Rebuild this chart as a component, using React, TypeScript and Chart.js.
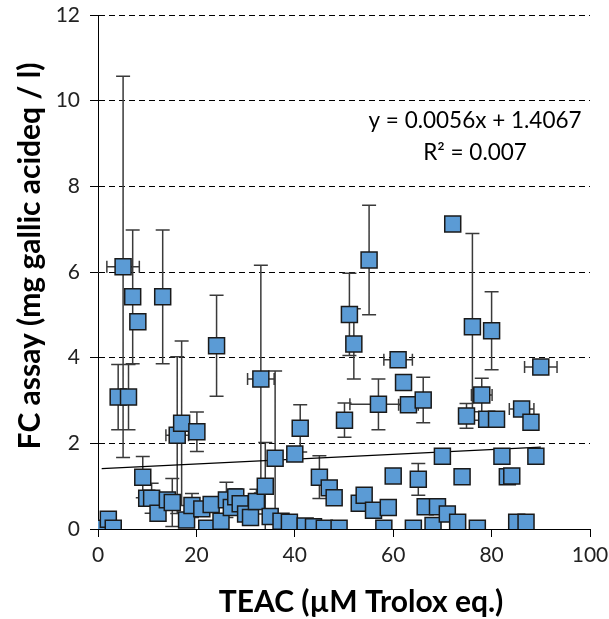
import React, { useEffect, useRef } from 'react';
import { Chart, registerables } from 'chart.js';

Chart.register(...registerables);

// TEAC (µM Trolox eq.)
const teac = [
  0.75, 2.1, 3.1, 4.1, 5.1, 6.2, 7.05, 8.1, 9.1, 9.9,
  10.9, 12.2, 13.15, 14.1, 15.1, 16.1, 17.0, 18.0, 19.1, 20.1,
  21.1, 22.1, 23.0, 24.1, 25.0, 26.1, 27.1, 28.0, 28.9, 30.0,
  31.0, 32.2, 33.1, 34.0, 35.0, 36.0, 37.2, 38.9, 40.0, 41.1,
  42.1, 43.8, 45.0, 46.0, 47.0, 48.0, 49.0, 50.1, 51.1, 52.0,
  53.1, 54.1, 55.1, 56.0, 57.0, 58.1, 59.0, 60.0, 61.0, 62.1,
  63.1, 64.1, 65.1, 66.1, 66.5, 68.1, 69.0, 70.0, 71.0, 72.1,
  73.1, 74.0, 74.9, 76.1, 77.1, 78.0, 79.0, 80.0, 81.0, 82.1,
  83.2, 84.1, 85.1, 86.1, 87.0, 88.0, 89.0, 90.0,
];
// FC assay (mg gallic acideq / l)
const fc = [
  0.02, 0.23, 0.02, 3.08, 6.12, 3.08, 5.42, 4.84, 1.21, 0.72,
  0.72, 0.37, 5.42, 0.68, 0.62, 2.19, 2.47, 0.21, 0.55, 2.27,
  0.47, 0.02, 0.57, 4.28, 0.18, 0.68, 0.5, 0.75, 0.59, 0.35,
  0.27, 0.64, 3.5, 1.0, 0.29, 1.65, 0.18, 0.16, 1.75, 2.35,
  0.07, 0.05, 1.21, 0.02, 0.96, 0.73, 0.02, 2.54, 5.01, 4.32,
  0.6, 0.79, 6.28, 0.44, 2.91, 0.02, 0.5, 1.24, 3.95, 3.42,
  2.9, 0.02, 1.16, 3.01, 0.52, 0.08, 0.52, 1.7, 0.35, 7.12,
  0.16, 1.22, 2.64, 4.72, 0.02, 3.13, 2.56, 4.63, 2.56, 1.7,
  1.22, 1.24, 0.16, 2.8, 0.16, 2.49, 1.7, 3.78,
];
// FC standard deviation
const fcErr = [
  0, 0, 0, 0.76, 4.45, 0.76, 1.56, 0, 0.48, 0,
  0.35, 0, 1.56, 0, 0.56, 1.83, 1.92, 0, 0.28, 0.46,
  0, 0, 0, 1.18, 0, 0.41, 0, 0.19, 0, 0,
  0, 0.29, 2.66, 1.02, 0, 2.04, 0, 0, 0.1, 0.55,
  0, 0, 0.5, 0, 0, 0, 0, 0.4, 0.96, 0.82,
  0, 0, 1.28, 0, 0.59, 0, 0, 0, 0, 0.1,
  0, 0, 0.37, 0.53, 0, 0, 0, 0, 0, 0,
  0, 0, 0.29, 2.18, 0, 0.39, 0, 0.91, 0, 0,
  0, 0, 0, 0, 0, 0, 0.15, 0,
];
// TEAC standard deviation
const teacErr = [
  0, 0, 0, 0, 3.3, 0, 0, 0, 0, 0,
  0, 0, 0, 0, 0, 2.3, 0, 0, 0, 0,
  0, 0, 0, 0, 0, 0, 0, 0, 0, 0,
  0, 0, 2.7, 0, 0, 0, 0, 0, 0, 0,
  0, 0, 0, 0, 0, 0, 0, 0, 0, 0,
  0, 0, 0, 0, 5.8, 0, 0, 0, 2.9, 0,
  2.0, 0, 0, 0, 0, 0, 0, 0, 0, 0,
  0, 0, 0, 0, 0, 2.1, 0, 0, 0, 0,
  0, 0, 0, 2.5, 0, 0, 0, 3.3,
];

const xTicks = [0, 20, 40, 60, 80, 100];
const yTicks = [0, 2, 4, 6, 8, 10, 12];
const slope = 0.0056;
const intercept = 1.4067;
const eqLabel = 'y = 0.0056x + 1.4067';
const r2Label = 'R² = 0.007';
const xTitle = 'TEAC (µM Trolox eq.)';
const yTitle = 'FC assay (mg gallic acideq / l)';

const FONT = 'Lato, "Open Sans", sans-serif';

const errorBarsPlugin = {
  id: 'errorBars',
  beforeDatasetsDraw(chart: any) {
    const { ctx, scales } = chart;
    const x = scales.x;
    const y = scales.y;
    ctx.save();
    ctx.strokeStyle = '#3a3a3a';
    ctx.lineWidth = 1.5;
    ctx.beginPath();
    for (let i = 0; i < teac.length; i++) {
      const px = x.getPixelForValue(teac[i]);
      const py = y.getPixelForValue(fc[i]);
      const ey = fcErr[i];
      if (ey > 0) {
        const topV = fc[i] + ey;
        const botV = fc[i] - ey;
        const top = y.getPixelForValue(topV);
        const bot = y.getPixelForValue(Math.max(0, botV));
        ctx.moveTo(px, top);
        ctx.lineTo(px, bot);
        ctx.moveTo(px - 7, top);
        ctx.lineTo(px + 7, top);
        if (botV >= 0) {
          ctx.moveTo(px - 7, bot);
          ctx.lineTo(px + 7, bot);
        }
      }
      const ex = teacErr[i];
      if (ex > 0) {
        const l = x.getPixelForValue(Math.max(0, teac[i] - ex));
        const r = x.getPixelForValue(teac[i] + ex);
        ctx.moveTo(l, py);
        ctx.lineTo(r, py);
        ctx.moveTo(l, py - 6);
        ctx.lineTo(l, py + 6);
        ctx.moveTo(r, py - 6);
        ctx.lineTo(r, py + 6);
      }
    }
    ctx.stroke();
    ctx.restore();
  },
};

const textPlugin = {
  id: 'texts',
  afterDraw(chart: any) {
    const { ctx } = chart;
    ctx.save();
    ctx.fillStyle = '#000';
    ctx.textAlign = 'center';
    ctx.textBaseline = 'alphabetic';
    ctx.font = `22.5px ${FONT}`;
    ctx.fillText(eqLabel, 475, 128);
    ctx.fillText(r2Label, 475, 160);
    ctx.font = `bold 30px ${FONT}`;
    ctx.textBaseline = 'middle';
    ctx.fillText(xTitle, 361, 602);
    ctx.translate(30, 256);
    ctx.rotate(-Math.PI / 2);
    ctx.fillText(yTitle, 0, 0);
    ctx.restore();
  },
};

export default function App() {
  const ref = useRef<HTMLCanvasElement | null>(null);
  useEffect(() => {
    if (!ref.current) return;
    const minX = Math.min(...teac);
    const maxX = Math.max(...teac);
    const chart = new Chart(ref.current, {
      type: 'scatter',
      data: {
        datasets: [
          {
            label: 'FC vs TEAC',
            data: teac.map((v, i) => ({ x: v, y: fc[i] })),
            pointStyle: 'rect',
            pointRadius: 11.3,
            pointBackgroundColor: '#5B9BD5',
            pointBorderColor: '#1a1a1a',
            pointBorderWidth: 1.5,
            showLine: false,
          } as any,
          {
            type: 'line',
            label: 'Linear trend',
            data: [
              { x: minX, y: slope * minX + intercept },
              { x: maxX, y: slope * maxX + intercept },
            ],
            borderColor: '#000',
            borderWidth: 1.2,
            pointRadius: 0,
            fill: false,
          } as any,
        ],
      },
      options: {
        animation: false,
        responsive: false,
        maintainAspectRatio: false,
        layout: { padding: { left: 0, right: 19, top: 15, bottom: 0 } },
        plugins: { legend: { display: false }, tooltip: { enabled: false } },
        scales: {
          x: {
            type: 'linear',
            min: 0,
            max: 100,
            afterBuildTicks: (s: any) => {
              s.ticks = xTicks.map((v) => ({ value: v }));
            },
            afterFit: (s: any) => {
              s.height = 90;
              s.paddingLeft = 0;
              s.paddingRight = 0;
            },
            ticks: { font: { family: FONT, size: 21 }, color: '#222', padding: 6, maxRotation: 0 },
            grid: { drawOnChartArea: false, drawTicks: true, tickLength: 8, color: '#000', lineWidth: 1 },
            border: { display: true, color: '#000', width: 1 },
          },
          y: {
            type: 'linear',
            min: 0,
            max: 12,
            afterBuildTicks: (s: any) => {
              s.ticks = yTicks.map((v) => ({ value: v }));
            },
            afterFit: (s: any) => {
              s.width = 98;
              s.paddingTop = 0;
              s.paddingBottom = 0;
            },
            ticks: { font: { family: FONT, size: 21 }, color: '#222', padding: 10 },
            grid: { color: '#000', lineWidth: 1, tickLength: 8, drawTicks: true },
            border: { display: true, color: '#000', width: 1, dash: [6, 4] },
          },
        },
      } as any,
      plugins: [errorBarsPlugin, textPlugin],
    });
    return () => chart.destroy();
  }, []);
  return (
    <div style={{ position: 'absolute', left: 0, top: 0, width: 609, height: 619, background: '#fff' }}>
      <canvas ref={ref} width={609} height={619} style={{ display: 'block' }} />
    </div>
  );
}
